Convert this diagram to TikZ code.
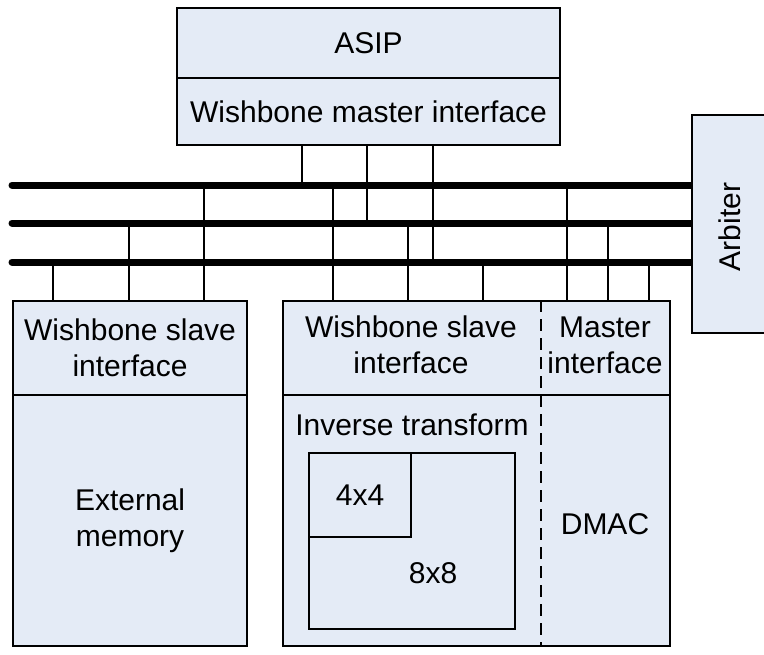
\documentclass[tikz,border=0pt]{standalone}
\usepackage{fontspec}
\setmainfont{Liberation Sans}
\definecolor{boxfill}{RGB}{228,235,246}
\begin{document}
\begin{tikzpicture}[x=1bp,y=-1bp,
  box/.style={draw=black, fill=boxfill, line width=2.1bp, inner sep=0pt, anchor=north west,
              font=\fontsize{30bp}{36bp}\selectfont, align=center},
  lbl/.style={font=\fontsize{30bp}{36bp}\selectfont, align=center, inner sep=0pt},
  bus/.style={line width=7bp, line cap=round},
  wire/.style={line width=2bp},
  sepline/.style={line width=2.1bp, dash pattern=on 12bp off 7bp}]
\useasboundingbox (0,0) rectangle (764,655);

% bus coordinates
\coordinate (bus1) at (12,185);
\coordinate (bus2) at (12,223);
\coordinate (bus3) at (12,262);
\coordinate (arbx) at (691,0);
\foreach \x in {53,129,204,302,333,367,408,433,483,541,567,608,649}
  \coordinate (c\x) at (\x,0);

% ASIP
\node[box, minimum width=383bp, minimum height=70bp] (asip) at (176,7) {ASIP};
\node[box, minimum width=383bp, minimum height=67bp] (asipm) at (176,77) {Wishbone master interface};

% Left: external memory
\node[box, minimum width=234bp, minimum height=94bp] (lslave) at (12,300) {Wishbone slave\\interface};
\node[box, minimum width=234bp, minimum height=251bp] (lmem) at (12,394) {External\\memory};

% Right: inverse transform / DMAC
\node[box, minimum width=387bp, minimum height=94bp] (rtop) at (282,300) {};
\node[box, minimum width=387bp, minimum height=251bp] (rbot) at (282,394) {};
\node[lbl] (rslave) at (411,345) {Wishbone slave\\interface};
\node[lbl] (rmaster) at (605,345) {Master\\interface};
\node[lbl] (inv) at (412,425) {Inverse transform};
\node[lbl] (dmac) at (605,524) {DMAC};
\node[box, minimum width=206bp, minimum height=176bp] (t8) at (308,452) {};
\node[lbl] (t8l) at (433,573) {8x8};
\node[box, minimum width=102bp, minimum height=84bp] (t4) at (308,452) {4x4};
\draw[sepline] (rtop.north -| c541) -- (rbot.south -| c541);

% buses
\draw[bus] (bus1) -- (bus1 -| arbx);
\draw[bus] (bus2) -- (bus2 -| arbx);
\draw[bus] (bus3) -- (bus3 -| arbx);

% arbiter
\node[box, minimum width=80bp, minimum height=218bp] (arb) at (691,114) {};
\node[lbl, rotate=90] (arbl) at (730,227) {Arbiter};

% ASIP connectors
\draw[wire] (asipm.south -| c302) -- (c302 |- bus1);
\draw[wire] (asipm.south -| c367) -- (c367 |- bus2);
\draw[wire] (asipm.south -| c433) -- (c433 |- bus3);

% left slave connectors
\draw[wire] (c53 |- bus3) -- (c53 |- lslave.north);
\draw[wire] (c129 |- bus2) -- (c129 |- lslave.north);
\draw[wire] (c204 |- bus1) -- (c204 |- lslave.north);

% right connectors
\draw[wire] (c333 |- bus1) -- (c333 |- rtop.north);
\draw[wire] (c408 |- bus2) -- (c408 |- rtop.north);
\draw[wire] (c483 |- bus3) -- (c483 |- rtop.north);
\draw[wire] (c567 |- bus1) -- (c567 |- rtop.north);
\draw[wire] (c608 |- bus2) -- (c608 |- rtop.north);
\draw[wire] (c649 |- bus3) -- (c649 |- rtop.north);
\end{tikzpicture}
\end{document}
